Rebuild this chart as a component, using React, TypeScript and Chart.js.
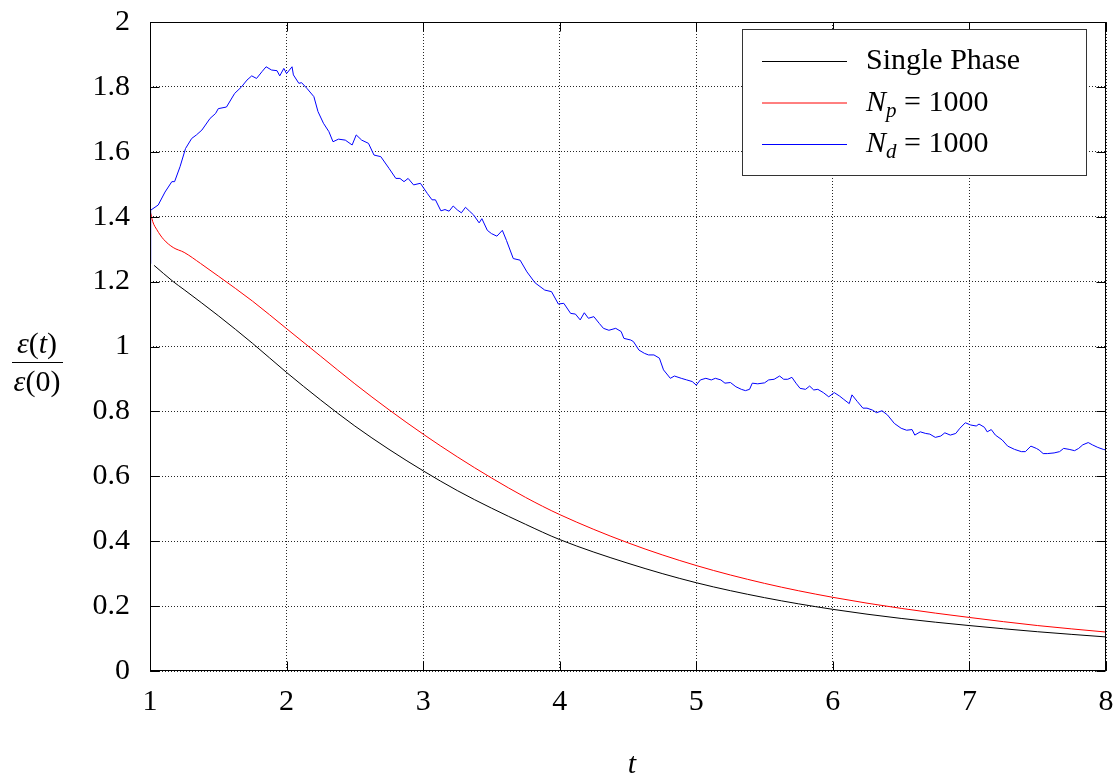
import React, { useEffect, useRef } from "react";
import { Chart, registerables } from "chart.js";
Chart.register(...registerables);

const X_TICKS = [1, 2, 3, 4, 5, 6, 7, 8];
const Y_TICKS = [0, 0.2, 0.4, 0.6, 0.8, 1, 1.2, 1.4, 1.6, 1.8, 2];

const LEGEND_LABELS = ["Single Phase", "N_p = 1000", "N_d = 1000"];
const COLORS = ["#000000", "#ff0000", "#0000ff"];

// Single phase
const singleT = [1.03, 1.17, 1.25, 1.5, 1.75, 2.0, 2.25, 2.5, 2.75, 3.0, 3.25, 3.5, 3.75, 4.0, 4.5, 5.0, 5.5, 6.0, 6.5, 7.0, 7.5, 8.0];
const singleE = [1.25, 1.2, 1.175, 1.095, 1.01, 0.92, 0.835, 0.755, 0.683, 0.617, 0.556, 0.502, 0.452, 0.405, 0.332, 0.272, 0.226, 0.19, 0.162, 0.14, 0.121, 0.105];

// N_p = 1000
const npT = [1.0, 1.02, 1.05, 1.1, 1.17, 1.25, 1.37, 1.5, 1.75, 2.0, 2.25, 2.5, 2.75, 3.0, 3.25, 3.5, 3.75, 4.0, 4.5, 5.0, 5.5, 6.0, 6.5, 7.0, 7.5, 8.0];
const npE = [1.42, 1.385, 1.36, 1.33, 1.305, 1.29, 1.256, 1.217, 1.14, 1.055, 0.97, 0.885, 0.805, 0.73, 0.66, 0.595, 0.535, 0.482, 0.395, 0.325, 0.27, 0.227, 0.193, 0.165, 0.14, 0.12];

// N_d = 1000
const ndT = [
  1.0, 1.005, 1.06, 1.11, 1.16, 1.18, 1.22, 1.26, 1.305, 1.34, 1.38, 1.44, 1.48, 1.5, 1.56, 1.62, 1.67, 1.71, 1.745, 1.78,
  1.82, 1.85, 1.89, 1.93, 1.95, 1.98, 2.0, 2.04, 2.05, 2.09, 2.11, 2.15, 2.2, 2.23, 2.27, 2.31, 2.34, 2.38, 2.43, 2.48,
  2.51, 2.55, 2.6, 2.64, 2.69, 2.75, 2.8, 2.83, 2.86, 2.89, 2.93, 2.98, 3.03, 3.065, 3.09, 3.13, 3.16, 3.19, 3.22, 3.25,
  3.28, 3.31, 3.34, 3.37, 3.41, 3.43, 3.47, 3.5, 3.54, 3.58, 3.61, 3.66, 3.71, 3.76, 3.82, 3.89, 3.94, 3.99, 4.03, 4.08,
  4.115, 4.15, 4.18, 4.21, 4.25, 4.29, 4.32, 4.36, 4.41, 4.45, 4.47, 4.52, 4.54, 4.58, 4.62, 4.65, 4.69, 4.73, 4.76, 4.81,
  4.84, 4.89, 4.93, 4.97, 5.0, 5.03, 5.07, 5.11, 5.14, 5.18, 5.21, 5.25, 5.29, 5.33, 5.36, 5.39, 5.41, 5.45, 5.5, 5.53,
  5.57, 5.61, 5.64, 5.67, 5.7, 5.73, 5.76, 5.8, 5.83, 5.86, 5.89, 5.93, 5.97, 6.01, 6.05, 6.08, 6.12, 6.14, 6.18, 6.22,
  6.25, 6.29, 6.32, 6.36, 6.4, 6.45, 6.5, 6.54, 6.58, 6.6, 6.64, 6.68, 6.71, 6.75, 6.79, 6.82, 6.86, 6.9, 6.93, 6.97,
  7.01, 7.05, 7.07, 7.11, 7.13, 7.16, 7.19, 7.24, 7.28, 7.33, 7.38, 7.41, 7.45, 7.49, 7.51, 7.54, 7.57, 7.62, 7.66, 7.69,
  7.73, 7.77, 7.8, 7.83, 7.87, 7.9, 7.94, 7.98, 8.0,
];
const ndE = [
  1.255, 1.42, 1.436, 1.476, 1.508, 1.508, 1.554, 1.61, 1.641, 1.652, 1.667, 1.703, 1.718, 1.733, 1.738, 1.78, 1.8, 1.821, 1.834, 1.826,
  1.847, 1.862, 1.852, 1.85, 1.834, 1.857, 1.841, 1.862, 1.837, 1.811, 1.813, 1.795, 1.77, 1.724, 1.688, 1.662, 1.631, 1.639, 1.636, 1.621,
  1.652, 1.636, 1.626, 1.59, 1.585, 1.549, 1.518, 1.518, 1.508, 1.518, 1.498, 1.503, 1.472, 1.452, 1.452, 1.418, 1.422, 1.417, 1.433, 1.421,
  1.412, 1.429, 1.417, 1.405, 1.381, 1.394, 1.358, 1.348, 1.34, 1.358, 1.327, 1.271, 1.266, 1.23, 1.196, 1.174, 1.169, 1.131, 1.133, 1.102,
  1.1, 1.082, 1.104, 1.087, 1.092, 1.071, 1.056, 1.05, 1.056, 1.046, 1.025, 1.02, 1.015, 0.989, 0.979, 0.974, 0.974, 0.964, 0.928, 0.902,
  0.909, 0.902, 0.897, 0.892, 0.881, 0.897, 0.902, 0.897, 0.902, 0.897, 0.887, 0.889, 0.876, 0.868, 0.864, 0.868, 0.887, 0.885, 0.888, 0.897,
  0.899, 0.909, 0.899, 0.899, 0.905, 0.887, 0.871, 0.868, 0.878, 0.866, 0.868, 0.858, 0.845, 0.858, 0.847, 0.837, 0.824, 0.851, 0.83, 0.81,
  0.81, 0.804, 0.796, 0.802, 0.789, 0.763, 0.748, 0.742, 0.744, 0.727, 0.737, 0.732, 0.73, 0.72, 0.724, 0.734, 0.727, 0.732, 0.748, 0.765,
  0.758, 0.755, 0.761, 0.751, 0.737, 0.744, 0.727, 0.712, 0.693, 0.683, 0.676, 0.676, 0.693, 0.686, 0.681, 0.67, 0.67, 0.672, 0.676, 0.686,
  0.683, 0.679, 0.686, 0.697, 0.704, 0.697, 0.689, 0.683, 0.681,
];

const SERIF = '"Liberation Serif", "Times New Roman", serif';
const FS = 30;

type Run = { t: string; italic?: boolean; size?: number; dy?: number };

function runsWidth(ctx: CanvasRenderingContext2D, runs: Run[]) {
  let w = 0;
  for (const r of runs) {
    ctx.font = `${r.italic ? "italic " : ""}${r.size || FS}px ${SERIF}`;
    w += ctx.measureText(r.t).width;
  }
  return w;
}

function drawRuns(ctx: CanvasRenderingContext2D, runs: Run[], x: number, y: number) {
  let cx = x;
  for (const r of runs) {
    ctx.font = `${r.italic ? "italic " : ""}${r.size || FS}px ${SERIF}`;
    ctx.fillText(r.t, cx, y + (r.dy || 0));
    cx += ctx.measureText(r.t).width;
  }
}

function labelRuns(label: string): Run[] {
  const m = label.match(/^N_(\w) = (\d+)$/);
  if (m) {
    return [
      { t: "N", italic: true },
      { t: m[1], italic: true, size: 21, dy: 6 },
      { t: " = " + m[2] },
    ];
  }
  return [{ t: label }];
}

const decorations = {
  id: "decorations",
  afterDatasetsDraw(chart: any) {
    const { ctx, chartArea, scales } = chart;
    const { left, right, top, bottom } = chartArea;
    const x = scales.x;
    const y = scales.y;
    ctx.save();
    ctx.strokeStyle = "#000";
    ctx.lineWidth = 1;
    ctx.setLineDash([]);
    ctx.beginPath();
    const L = Math.round(left) + 0.5;
    const R = Math.round(right) - 0.5;
    const T = Math.round(top) + 0.5;
    const B = Math.round(bottom) - 0.5;
    for (const v of X_TICKS) {
      const px = Math.round(x.getPixelForValue(v)) + 0.5;
      ctx.moveTo(px, B);
      ctx.lineTo(px, B - 9);
      ctx.moveTo(px, T);
      ctx.lineTo(px, T + 9);
    }
    for (const v of Y_TICKS) {
      const py = Math.round(y.getPixelForValue(v)) + 0.5;
      ctx.moveTo(L, py);
      ctx.lineTo(L + 9, py);
      ctx.moveTo(R, py);
      ctx.lineTo(R - 9, py);
    }
    ctx.stroke();
    ctx.strokeRect(L, T, R - L, B - T);
    ctx.restore();
  },
  afterDraw(chart: any) {
    const { ctx } = chart;
    ctx.save();
    ctx.fillStyle = "#000";
    ctx.textBaseline = "alphabetic";

    // Legend
    const bx = 742.5, by = 29.5, bw = 344, bh = 146;
    ctx.fillStyle = "#fff";
    ctx.fillRect(bx, by, bw, bh);
    ctx.strokeStyle = "#333";
    ctx.lineWidth = 1;
    ctx.strokeRect(bx, by, bw, bh);
    const rows = [61, 102.5, 144];
    LEGEND_LABELS.forEach((lab, i) => {
      ctx.strokeStyle = COLORS[i];
      ctx.beginPath();
      ctx.moveTo(762, rows[i] + 0.5);
      ctx.lineTo(847, rows[i] + 0.5);
      ctx.stroke();
      ctx.fillStyle = "#000";
      drawRuns(ctx, labelRuns(lab), 866, rows[i] + 8);
    });

    // Y title: fraction
    const num: Run[] = [{ t: "ε", italic: true }, { t: "(" }, { t: "t", italic: true }, { t: ")" }];
    const den: Run[] = [{ t: "ε", italic: true }, { t: "(0)" }];
    const cx = 37;
    drawRuns(ctx, num, cx - runsWidth(ctx, num) / 2, 353);
    drawRuns(ctx, den, cx - runsWidth(ctx, den) / 2, 391);
    ctx.strokeStyle = "#000";
    ctx.lineWidth = 1.2;
    ctx.beginPath();
    ctx.moveTo(12, 362.5);
    ctx.lineTo(63, 362.5);
    ctx.stroke();

    // X title
    const xt: Run[] = [{ t: "t", italic: true }];
    drawRuns(ctx, xt, 632 - runsWidth(ctx, xt) / 2, 773);
    ctx.restore();
  },
};

function toPoints(ts: number[], es: number[]) {
  return ts.map((t, i) => ({ x: t, y: es[i] }));
}

export default function App() {
  const ref = useRef<HTMLCanvasElement | null>(null);
  useEffect(() => {
    if (!ref.current) return;
    const chart = new Chart(ref.current, {
      type: "line",
      data: {
        datasets: [
          {
            label: LEGEND_LABELS[0],
            data: toPoints(singleT, singleE),
            borderColor: COLORS[0],
            borderWidth: 1,
            pointRadius: 0,
            cubicInterpolationMode: "monotone",
            fill: false,
          },
          {
            label: LEGEND_LABELS[1],
            data: toPoints(npT, npE),
            borderColor: COLORS[1],
            borderWidth: 1,
            pointRadius: 0,
            cubicInterpolationMode: "monotone",
            fill: false,
          },
          {
            label: LEGEND_LABELS[2],
            data: toPoints(ndT, ndE),
            borderColor: COLORS[2],
            borderWidth: 1,
            pointRadius: 0,
            tension: 0,
            fill: false,
          },
        ],
      },
      options: {
        animation: false,
        responsive: true,
        maintainAspectRatio: false,
        layout: { padding: { left: 0, right: 12, top: 22, bottom: 0 } },
        plugins: { legend: { display: false }, tooltip: { enabled: false } },
        scales: {
          x: {
            type: "linear",
            min: 1,
            max: 8,
            afterBuildTicks: (s: any) => {
              s.ticks = X_TICKS.map((v) => ({ value: v }));
            },
            afterFit: (s: any) => {
              s.height = 111;
              s.paddingLeft = 0;
              s.paddingRight = 0;
            },
            ticks: {
              color: "#000",
              font: { family: SERIF, size: FS },
              padding: 13,
              maxRotation: 0,
              callback: (v: any) => String(v),
            },
            grid: { color: "rgba(0,0,0,0.85)", lineWidth: 1, drawTicks: false },
            border: { display: false, dash: [1, 2] },
          },
          y: {
            type: "linear",
            min: 0,
            max: 2,
            afterBuildTicks: (s: any) => {
              s.ticks = Y_TICKS.map((v) => ({ value: v }));
            },
            afterFit: (s: any) => {
              s.width = 150;
              s.paddingTop = 0;
              s.paddingBottom = 0;
            },
            ticks: {
              color: "#000",
              font: { family: SERIF, size: FS },
              padding: 20,
              callback: (v: any) => String(Number(Number(v).toFixed(1))),
            },
            grid: { color: "rgba(0,0,0,0.85)", lineWidth: 1, drawTicks: false },
            border: { display: false, dash: [1, 2] },
          },
        },
      },
      plugins: [decorations],
    });
    return () => chart.destroy();
  }, []);
  return (
    <div style={{ position: "absolute", left: 0, top: 0, width: 1118, height: 782, background: "#fff" }}>
      <canvas ref={ref} />
    </div>
  );
}
